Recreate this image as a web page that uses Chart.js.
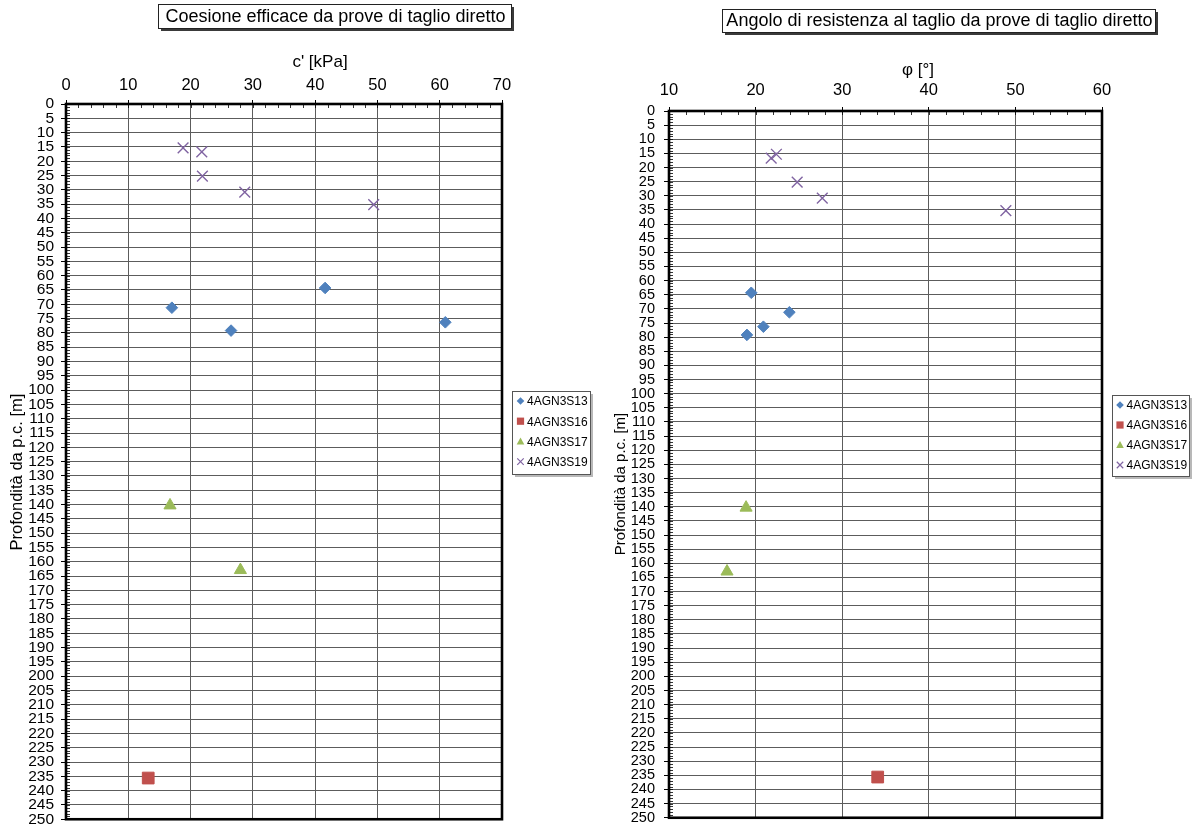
<!DOCTYPE html>
<html>
<head>
<meta charset="utf-8">
<script src="https://cdn.jsdelivr.net/npm/chart.js@4.4.0/dist/chart.umd.min.js"></script>
<style>
html,body{margin:0;padding:0;background:#fff;}
#wrap{position:relative;width:1195px;height:834px;overflow:hidden;background:#fff;}
.cv{position:absolute;top:0;}
canvas{display:block;}
</style>
</head>
<body>
<div id="wrap">
  <div class="cv" style="left:0;width:600px;height:834px"><canvas id="c1" width="600" height="834"></canvas></div>
  <div class="cv" style="left:600px;width:595px;height:834px"><canvas id="c2" width="595" height="834"></canvas></div>
</div>
<script>
// ---------------- DATA ----------------
const seriesNames = ['4AGN3S13', '4AGN3S16', '4AGN3S17', '4AGN3S19'];

// depths [m]
const depthS13 = [64.3, 71.2, 76.3, 79.2];
const depthS16 = [235.6];
const depthS17 = [140.3, 162.9];
const depthS19 = [15.3, 16.7, 25.2, 30.8, 35.2];

// c' [kPa]
const cS13 = [41.6, 17.0, 60.9, 26.5];
const cS16 = [13.2];
const cS17 = [16.7, 28.0];
const cS19 = [18.8, 21.8, 21.9, 28.7, 49.4];

// phi [deg]
const phiS13 = [19.5, 23.9, 20.9, 19.0];
const phiS16 = [34.1];
const phiS17 = [18.9, 16.7];
const phiS19 = [22.4, 21.8, 24.8, 27.7, 48.9];

const cTicks = {min: 0, max: 70, step: 10};
const phiTicks = {min: 10, max: 60, step: 10};
const depthTicks = {min: 0, max: 250, step: 5};

const title1 = 'Coesione efficace da prove di taglio diretto';
const title2 = 'Angolo di resistenza al taglio da prove di taglio diretto';
const xTitle1 = "c' [kPa]";
const xTitle2 = 'φ [°]';
const yTitle = 'Profondità da p.c. [m]';

// ---------------- STYLES ----------------
const FONT = '"Liberation Sans", Arial, Helvetica, sans-serif';
const styles = [
  {pointStyle: 'rectRot', radius: 5.8, color: '#4F81BD', borderWidth: 1},
  {pointStyle: 'rect', radius: 8.3, color: '#C0504D', borderWidth: 1},
  {pointStyle: 'triangle', radius: 7, color: '#9BBB59', borderWidth: 1},
  {pointStyle: 'crossRot', radius: 7.6, color: '#8064A2', borderWidth: 1.4}
];

function pts(xs, ys) { return xs.map((v, i) => ({x: v, y: ys[i]})); }

function buildDatasets(xArrays) {
  const depths = [depthS13, depthS16, depthS17, depthS19];
  return xArrays.map((xs, i) => ({
    label: seriesNames[i],
    data: pts(xs, depths[i]),
    pointStyle: styles[i].pointStyle,
    pointRadius: styles[i].radius,
    pointHoverRadius: styles[i].radius,
    backgroundColor: styles[i].color,
    borderColor: styles[i].color,
    pointBorderWidth: styles[i].borderWidth,
    showLine: false
  }));
}

function drawMarker(ctx, style, x, y, s) {
  ctx.save();
  ctx.fillStyle = style.color;
  ctx.strokeStyle = style.color;
  ctx.lineWidth = 1.2;
  ctx.beginPath();
  if (style.pointStyle === 'rectRot') {
    ctx.moveTo(x, y - s); ctx.lineTo(x + s, y); ctx.lineTo(x, y + s); ctx.lineTo(x - s, y); ctx.closePath(); ctx.fill();
  } else if (style.pointStyle === 'rect') {
    ctx.rect(x - s * 0.95, y - s * 0.95, s * 1.9, s * 1.9); ctx.fill();
  } else if (style.pointStyle === 'triangle') {
    ctx.moveTo(x, y - s * 1.05); ctx.lineTo(x + s, y + s * 0.8); ctx.lineTo(x - s, y + s * 0.8); ctx.closePath(); ctx.fill();
  } else {
    const d = s * 0.85;
    ctx.moveTo(x - d, y - d); ctx.lineTo(x + d, y + d); ctx.moveTo(x + d, y - d); ctx.lineTo(x - d, y + d); ctx.stroke();
  }
  ctx.restore();
}

const decoPlugin = {
  id: 'deco',
  beforeDatasetsDraw(chart, args, o) {
    const ctx = chart.ctx, ca = chart.chartArea;
    const xs = chart.scales.x, ys = chart.scales.y;
    ctx.save();
    // minor ticks
    ctx.strokeStyle = '#000';
    ctx.lineWidth = 0.8;
    ctx.beginPath();
    for (let v = ys.min; v <= ys.max; v += 1) {
      const py = Math.round(ys.getPixelForValue(v)) + 0.5;
      ctx.moveTo(ca.left, py); ctx.lineTo(ca.left + 4, py);
    }
    for (let v = xs.min; v <= xs.max; v += 2) {
      const px = Math.round(xs.getPixelForValue(v)) + 0.5;
      ctx.moveTo(px, ca.top); ctx.lineTo(px, ca.top + 4);
    }
    ctx.stroke();
    // border
    ctx.lineWidth = 2.6;
    ctx.strokeStyle = '#000';
    ctx.strokeRect(ca.left, ca.top, ca.right - ca.left, ca.bottom - ca.top);
    ctx.restore();
  },
  afterDraw(chart, args, o) {
    const ctx = chart.ctx;
    ctx.save();
    // boxed title
    const t = o.title;
    ctx.fillStyle = '#3a3a3a';
    ctx.fillRect(t.x1 + 3, t.y1 + 3, t.x2 - t.x1, t.y2 - t.y1);
    ctx.fillStyle = '#fff';
    ctx.fillRect(t.x1, t.y1, t.x2 - t.x1, t.y2 - t.y1);
    ctx.strokeStyle = '#222';
    ctx.lineWidth = 1;
    ctx.strokeRect(t.x1 + 0.5, t.y1 + 0.5, t.x2 - t.x1, t.y2 - t.y1);
    ctx.fillStyle = '#000';
    ctx.font = t.size + 'px ' + FONT;
    ctx.textAlign = 'center';
    ctx.textBaseline = 'middle';
    ctx.fillText(t.text, (t.x1 + t.x2) / 2 + 1, (t.y1 + t.y2) / 2 + 1);
    // x axis title
    const xt = o.xTitle;
    ctx.font = xt.size + 'px ' + FONT;
    ctx.fillText(xt.text, xt.x, xt.y);
    // y axis title
    const yt = o.yTitle;
    ctx.save();
    ctx.translate(yt.x, yt.y);
    ctx.rotate(-Math.PI / 2);
    ctx.font = yt.size + 'px ' + FONT;
    ctx.fillText(yt.text, 0, 0);
    ctx.restore();
    // legend
    const L = o.legend;
    ctx.fillStyle = '#b8b8b8';
    ctx.fillRect(L.x1 + 3, L.y1 + 3, L.x2 - L.x1, L.y2 - L.y1);
    ctx.fillStyle = '#fff';
    ctx.fillRect(L.x1, L.y1, L.x2 - L.x1, L.y2 - L.y1);
    ctx.strokeStyle = '#555';
    ctx.lineWidth = 1;
    ctx.strokeRect(L.x1 + 0.5, L.y1 + 0.5, L.x2 - L.x1, L.y2 - L.y1);
    ctx.font = L.size + 'px ' + FONT;
    ctx.textAlign = 'left';
    ctx.textBaseline = 'middle';
    seriesNames.forEach((name, i) => {
      const yy = L.y0 + i * L.dy;
      drawMarker(ctx, styles[i], L.mx, yy, 3.8);
      ctx.fillStyle = '#000';
      ctx.fillText(name, L.tx, yy + 1);
    });
    ctx.restore();
  }
};

function makeChart(id, W, area, xr, xArrays, deco, fonts) {
  return new Chart(document.getElementById(id), {
    type: 'scatter',
    data: {datasets: buildDatasets(xArrays)},
    options: {
      responsive: false,
      animation: false,
      events: [],
      layout: {padding: {left: 0, top: 0, right: W - area.right, bottom: 834 - area.bottom}},
      scales: {
        x: {
          type: 'linear', position: 'top', min: xr.min, max: xr.max,
          ticks: {stepSize: xr.step, padding: fonts.xPad, color: '#000', font: {family: FONT, size: fonts.x}, maxRotation: 0},
          grid: {color: '#5c5c5c', lineWidth: 1, tickLength: 4, tickColor: '#000', drawTicks: true},
          border: {display: false},
          afterFit: s => { s.height = area.top; }
        },
        y: {
          type: 'linear', reverse: true, min: depthTicks.min, max: depthTicks.max,
          ticks: {stepSize: depthTicks.step, autoSkip: false, padding: fonts.yPad, color: '#000', font: {family: FONT, size: fonts.y, lineHeight: 1}},
          grid: {color: '#5c5c5c', lineWidth: 1, tickLength: 5, tickColor: '#000', drawTicks: true},
          border: {display: false},
          afterFit: s => { s.width = area.left; }
        }
      },
      plugins: {legend: {display: false}, tooltip: {enabled: false}, deco: deco}
    },
    plugins: [decoPlugin]
  });
}

makeChart('c1', 600, {left: 66, top: 104, right: 502, bottom: 825}, cTicks,
  [cS13, cS16, cS17, cS19],
  {
    title: {text: title1, x1: 158, y1: 4, x2: 511, y2: 28, size: 18},
    xTitle: {text: xTitle1, x: 320, y: 62, size: 17},
    yTitle: {text: yTitle, x: 17, y: 472, size: 16.5},
    legend: {x1: 512, y1: 391, x2: 590, y2: 474, y0: 401, dy: 20.2, mx: 520.5, tx: 527, size: 12}
  },
  {x: 16.5, xPad: 5, y: 15.5, yPad: 7});

makeChart('c2', 595, {left: 69, top: 111, right: 502, bottom: 825}, phiTicks,
  [phiS13, phiS16, phiS17, phiS19],
  {
    title: {text: title2, x1: 122, y1: 9, x2: 555, y2: 32, size: 18},
    xTitle: {text: xTitle2, x: 318, y: 70, size: 17},
    yTitle: {text: yTitle, x: 21, y: 484, size: 15},
    legend: {x1: 512, y1: 395, x2: 589, y2: 476, y0: 405, dy: 20, mx: 520, tx: 526.5, size: 12}
  },
  {x: 16.5, xPad: 7, y: 14.5, yPad: 9});
</script>
</body>
</html>
